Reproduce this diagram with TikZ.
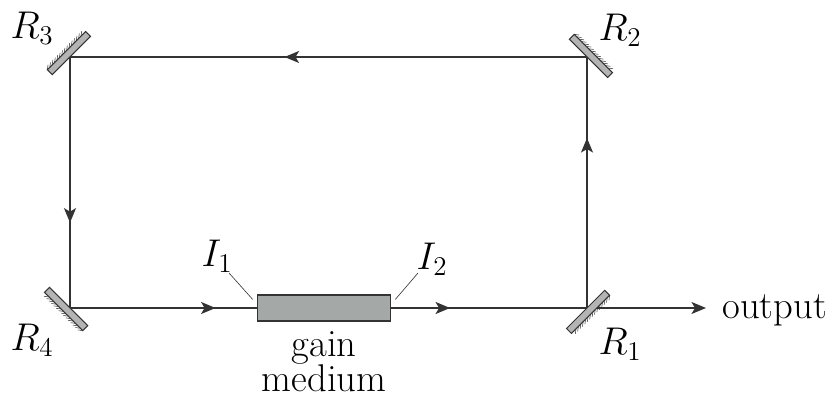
\documentclass[tikz,border=0pt]{standalone}
\usepackage{fix-cm}
\usepackage{amsmath}
\usetikzlibrary{arrows.meta,positioning,decorations.markings}
\definecolor{raycol}{HTML}{333333}
\definecolor{gaincol}{HTML}{A4A9A8}
\definecolor{mirrorcol}{HTML}{B4B4B4}
\tikzset{
  ray/.style={draw=raycol,line width=0.85pt,decoration={markings,mark=at position #1 with {\arrow{Stealth[length=2.9mm,width=2.4mm,inset=0.7mm]}}},postaction={decorate}},
  leader/.style={draw=raycol,line width=0.35pt},
  gainbox/.style={draw=raycol,fill=gaincol,line width=1pt,minimum width=26.6mm,minimum height=5.1mm,inner sep=0pt},
  mirror/.pic={
    \draw[raycol,fill=mirrorcol,line width=0.6pt] (-25,0) rectangle (29,7);
    \foreach \i in {-25,-21.6,...,25}{\draw[raycol,line width=0.3pt] (\i,7) -- ++(4,3);}
  }
}
\begin{document}
\begin{tikzpicture}[x=0.02cm,y=0.02cm,>={Stealth[length=2.9mm,width=2.4mm,inset=0.7mm]}, every node/.style={font=\fontsize{22}{20}\selectfont}]
\useasboundingbox (0,0) rectangle (828,394);
\coordinate (c1) at (587,86);
\coordinate (c2) at (587,337);
\coordinate (c3) at (70,337);
\coordinate (c4) at (70,86);
\coordinate (tip) at (706,86);
\node[gainbox] (gain) at (324,86) {};
\node[anchor=base west,inner sep=0pt] (out) at (722,75) {output};
\draw[ray=0.677] (c1) -- (c2);
\draw[ray=0.585] (c2) -- (c3);
\draw[ray=0.66] (c3) -- (c4);
\draw[ray=0.78] (c4) -- (gain);
\draw[ray=0.30] (gain) -- (c1);
\draw[draw=raycol,line width=0.85pt,->] (c1) -- (tip);
\pic[rotate=225] (m1) at (c1) {mirror};
\pic[rotate=-45] (m2) at (c2) {mirror};
\pic[rotate=45] (m3) at (c3) {mirror};
\pic[rotate=135] (m4) at (c4) {mirror};
\node (r1) at (620,50) {$R_1$};
\node (r2) at (620,364) {$R_2$};
\node (r3) at (32,366) {$R_3$};
\node (r4) at (32,54) {$R_4$};
\node (i1) at (217,138) {$I_1$};
\node (i2) at (432,135) {$I_2$};
\node[align=center,inner sep=0pt,below=5.3pt of gain] (label) {gain\\medium};
\coordinate (g1) at ([shift={(-4,-5)}]gain.north west);
\coordinate (g2) at ([shift={(4,-5)}]gain.north east);
\coordinate (l1) at (229,121);
\coordinate (l2) at (418,121);
\draw[leader] (l1) -- (g1);
\draw[leader] (l2) -- (g2);
\end{tikzpicture}
\end{document}
